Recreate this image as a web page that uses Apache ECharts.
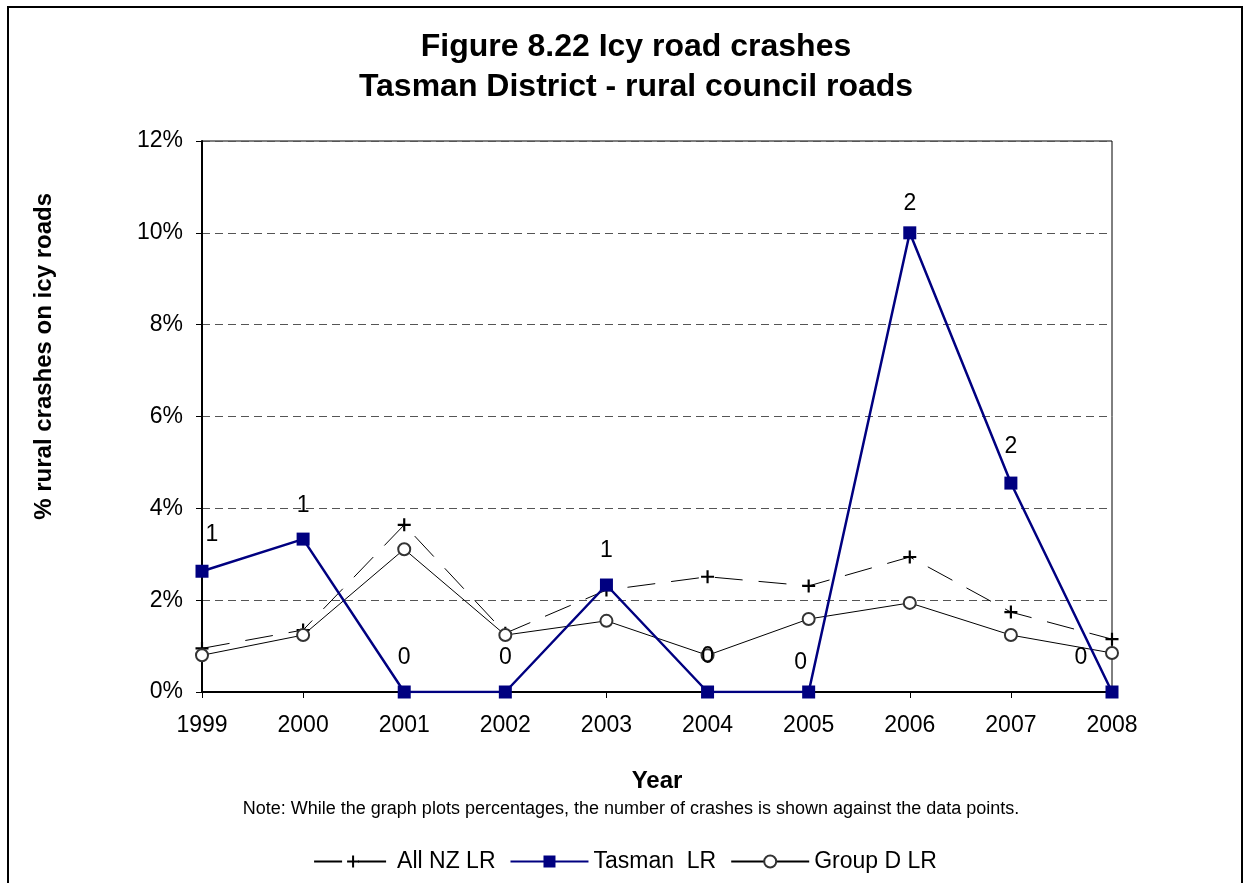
<!DOCTYPE html>
<html>
<head>
<meta charset="utf-8">
<script src="https://cdn.jsdelivr.net/npm/echarts@6/dist/echarts.min.js"></script>
<style>
  html, body { margin: 0; padding: 0; background: #fff; }
  #chart { width: 1250px; height: 883px; }
</style>
</head>
<body>
<div id="chart"></div>
<script>
// Icy road crash shares, rural council roads, 1999-2008
const years = ['1999', '2000', '2001', '2002', '2003', '2004', '2005', '2006', '2007', '2008'];
const allNZ = [0.95, 1.35, 3.64, 1.28, 2.22, 2.51, 2.31, 2.94, 1.74, 1.15];
const tasman = [2.63, 3.33, 0, 0, 2.33, 0, 0, 10.0, 4.55, 0];
const groupD = [0.80, 1.24, 3.11, 1.24, 1.55, 0.80, 1.59, 1.94, 1.24, 0.85];
// number of Tasman crashes written beside each point
const tasmanCounts = [1, 1, 0, 0, 1, 0, 0, 2, 2, 0];
// label nudges so the counts clear the lines
const countOffsets = [[10, -3], [0, 1], [0, 0], [0, 0], [0, 0], [0, -1], [-8, 5], [0, 5], [0, -2], [-31, 0]];
const yTicks = { min: 0, max: 12, step: 2 };

const FONT = 'Liberation Sans, Arial, sans-serif';
const plusPath = 'path://M-1,-6 L1,-6 L1,-1 L6,-1 L6,1 L1,1 L1,6 L-1,6 L-1,1 L-6,1 L-6,-1 L-1,-1 Z';

const chart = echarts.init(document.getElementById('chart'), null, { renderer: 'canvas' });

chart.setOption({
  backgroundColor: '#fff',
  animation: false,
  title: {
    text: 'Figure 8.22 Icy road crashes\nTasman District - rural council roads',
    left: 631,
    textAlign: 'center',
    top: 22,
    textStyle: { fontFamily: FONT, fontSize: 32, fontWeight: 'bold', color: '#000', lineHeight: 40 }
  },
  legend: {
    top: 845,
    left: 'center',
    itemWidth: 78,
    itemHeight: 15,
    itemGap: 14,
    textStyle: { fontFamily: FONT, fontSize: 23, color: '#000' },
    data: ['All NZ LR', 'Tasman  LR', 'Group D LR']
  },
  grid: { left: 202, right: 138, top: 141, bottom: 191, show: true, borderColor: '#000', borderWidth: 1 },
  xAxis: {
    type: 'category',
    data: years,
    boundaryGap: false,
    name: 'Year',
    nameLocation: 'middle',
    nameGap: 77,
    nameTextStyle: { fontFamily: FONT, fontSize: 24, fontWeight: 'bold', color: '#000' },
    axisLine: { lineStyle: { color: '#000', width: 2 } },
    axisTick: { show: true, length: 6, alignWithLabel: true, lineStyle: { color: '#000' } },
    axisLabel: { fontFamily: FONT, fontSize: 23, color: '#000', margin: 22 },
    splitLine: { show: false }
  },
  yAxis: {
    type: 'value',
    min: yTicks.min,
    max: yTicks.max,
    interval: yTicks.step,
    axisLine: { show: true, lineStyle: { color: '#000', width: 2 } },
    axisTick: { show: true, length: 6, lineStyle: { color: '#000' } },
    axisLabel: { fontFamily: FONT, fontSize: 23, color: '#000', margin: 19, formatter: '{value}%' },
    splitLine: { show: true, lineStyle: { color: '#555', type: [8, 5], width: 1 } }
  },
  series: [
    {
      name: 'All NZ LR',
      type: 'line',
      data: allNZ,
      symbol: plusPath,
      symbolSize: 13,
      itemStyle: { color: '#000' },
      lineStyle: { color: '#000', width: 1, type: [28, 16] },
      z: 2
    },
    {
      name: 'Tasman  LR',
      type: 'line',
      data: tasman.map((v, i) => ({
        value: v,
        label: { offset: countOffsets[i], formatter: String(tasmanCounts[i]) }
      })),
      symbol: 'rect',
      symbolSize: 13,
      itemStyle: { color: '#000080' },
      lineStyle: { color: '#000080', width: 2.5 },
      label: {
        show: true,
        position: 'top',
        distance: 16,
        fontFamily: FONT,
        fontSize: 23,
        color: '#000'
      },
      z: 4
    },
    {
      name: 'Group D LR',
      type: 'line',
      data: groupD,
      symbol: 'emptyCircle',
      symbolSize: 12,
      showAllSymbol: true,
      itemStyle: { color: '#333', borderColor: '#333', borderWidth: 2 },
      lineStyle: { color: '#000', width: 1 },
      z: 3
    }
  ],
  graphic: [
    {
      type: 'rect',
      shape: { x: 8, y: 7, width: 1234, height: 890 },
      style: { fill: 'none', stroke: '#000', lineWidth: 2 },
      silent: true
    },
    {
      // y-axis title, reading bottom to top, its end at the top
      type: 'text',
      x: 44,
      y: 193,
      rotation: Math.PI / 2,
      style: {
        text: '% rural crashes on icy roads',
        fontFamily: FONT,
        fontSize: 24,
        fontWeight: 'bold',
        fill: '#000',
        align: 'right',
        verticalAlign: 'middle'
      }
    },
    {
      type: 'text',
      x: 631,
      y: 809,
      style: {
        text: 'Note: While the graph plots percentages, the number of crashes is shown against the data points.',
        fontFamily: FONT,
        fontSize: 18,
        fill: '#000',
        align: 'center',
        verticalAlign: 'middle'
      }
    }
  ]
});
</script>
</body>
</html>
